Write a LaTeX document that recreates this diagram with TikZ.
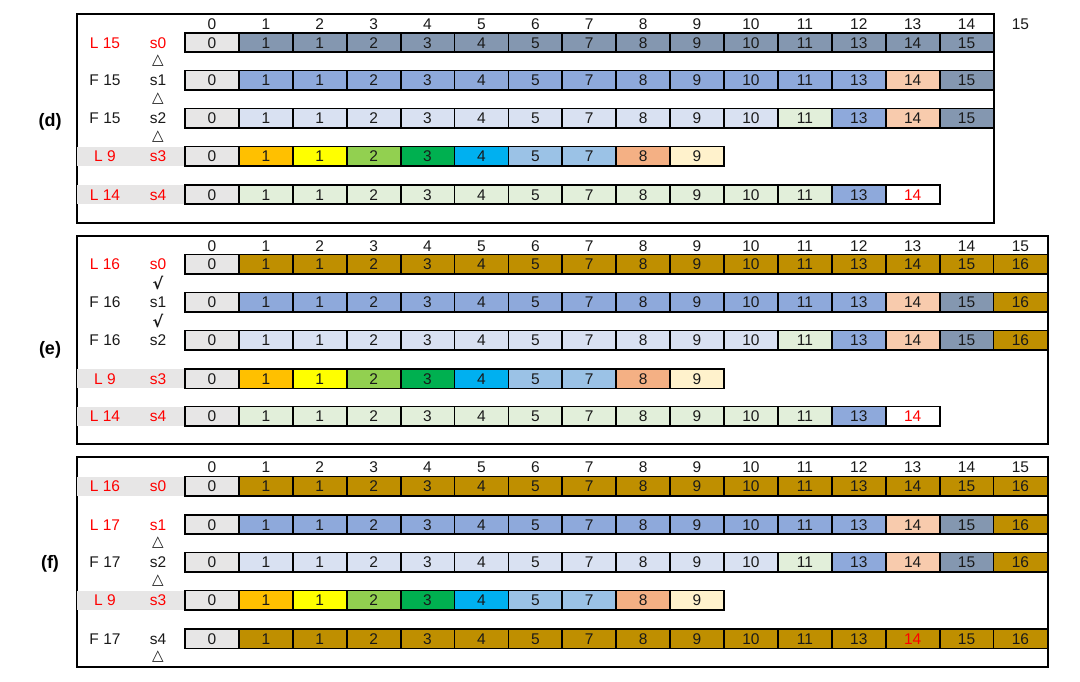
\documentclass[tikz,border=0pt]{standalone}
\usepackage{fontspec}
\setmainfont{Liberation Sans}
\newfontfamily\symfont{DejaVu Sans}
\definecolor{cg}{HTML}{E7E6E6}
\definecolor{sl}{HTML}{8497B0}
\definecolor{mb}{HTML}{8EA9DB}
\definecolor{lv}{HTML}{D9E1F2}
\definecolor{pc}{HTML}{F8CBAD}
\definecolor{lg}{HTML}{E2EFDA}
\definecolor{og}{HTML}{FFC000}
\definecolor{yl}{HTML}{FFFF00}
\definecolor{gn}{HTML}{92D050}
\definecolor{dg}{HTML}{00B050}
\definecolor{cy}{HTML}{00B0F0}
\definecolor{lb}{HTML}{9BC2E6}
\definecolor{sm}{HTML}{F4B084}
\definecolor{cr}{HTML}{FFF2CC}
\definecolor{gd}{HTML}{BF8F00}
\definecolor{rd}{HTML}{FF0000}
\definecolor{band}{HTML}{E7E6E6}
\definecolor{txt}{HTML}{1A1A1A}
\tikzset{
  numfont/.style={font=\fontsize{15.5}{15.5}\selectfont, text height=11.1pt, text depth=0pt},
  cellbox/.style={numfont, draw=black, line width=1.8pt, minimum width=53.9pt, minimum height=19.5pt,
    inner sep=0pt, outer sep=0pt, anchor=west, text=txt},
  f-cg/.style={fill=cg}, f-sl/.style={fill=sl}, f-mb/.style={fill=mb}, f-lv/.style={fill=lv},
  f-pc/.style={fill=pc}, f-lg/.style={fill=lg}, f-og/.style={fill=og}, f-yl/.style={fill=yl},
  f-gn/.style={fill=gn}, f-dg/.style={fill=dg}, f-cy/.style={fill=cy}, f-lb/.style={fill=lb},
  f-sm/.style={fill=sm}, f-cr/.style={fill=cr}, f-gd/.style={fill=gd},
  f-wr/.style={fill=white, text=rd}, f-gr/.style={fill=gd, text=rd},
  hdr/.style={numfont, text=txt, inner sep=0pt},
  lab/.style={numfont, text=txt, inner sep=0pt},
  redlab/.style={lab, text=rd},
  trimark/.style={font=\symfont\fontsize{15}{15}\selectfont, text=txt, inner sep=0pt},
  chk/.style={font=\symfont\bfseries\fontsize{16}{16}\selectfont, text=txt, inner sep=0pt},
  frame/.style={draw=black, line width=2pt},
  panel/.style={font=\bfseries\fontsize{18}{18}\selectfont, text=black, inner sep=0pt},
}
\newcommand\cellrow[3]{%
  \foreach \c [count=\i from 0] in {#3} {
    \pgfmathtruncatemacro\v{{0,1,1,2,3,4,5,7,8,9,10,11,13,14,15,16}[\i]}
    \node[cellbox, f-\c] (#1-\i) at ({185+53.9*\i}, #2) {\v};
  }}
\newcommand\headrow[3]{%
  \foreach \i in {0,...,#3} {
    \node[hdr] (#1-h\i) at ({185+53.9*\i+26.95}, #2) {\i};
  }}
\newcommand\bandrow[1]{\fill[band] (77,{#1-9.75}) rectangle (184,{#1+9.75});}
\begin{document}
\begin{tikzpicture}[x=1pt, y=-1pt]
\useasboundingbox (0,0) rectangle (1080,681);
\fill[white] (0,0) rectangle (1080,681);

% ---------------- panel (d)
\draw[frame] (77,14) rectangle (993.5,222.5);
\node[panel] (pd) at (50,122) {(d)};
\headrow{d}{24}{15}
\bandrow{156.3}
\bandrow{194.5}
\node[redlab] (d-L0) at (105,42.5) {L 15};   \node[redlab] (d-s0) at (158,42.5) {s0};
\node[lab] (d-L1) at (105,80.3) {F 15};      \node[lab] (d-s1) at (158,80.3) {s1};
\node[lab] (d-L2) at (105,118.3) {F 15};     \node[lab] (d-s2) at (158,118.3) {s2};
\node[redlab] (d-L3) at (105,156.3) {L 9};   \node[redlab] (d-s3) at (158,156.3) {s3};
\node[redlab] (d-L4) at (105,194.5) {L 14};  \node[redlab] (d-s4) at (158,194.5) {s4};
\node[trimark] (d-m0) at (158,61) {△};
\node[trimark] (d-m1) at (158,99) {△};
\node[trimark] (d-m2) at (158,137) {△};
\cellrow{d0}{42.5}{cg,sl,sl,sl,sl,sl,sl,sl,sl,sl,sl,sl,sl,sl,sl}
\cellrow{d1}{80.3}{cg,mb,mb,mb,mb,mb,mb,mb,mb,mb,mb,mb,mb,pc,sl}
\cellrow{d2}{118.3}{cg,lv,lv,lv,lv,lv,lv,lv,lv,lv,lv,lg,mb,pc,sl}
\cellrow{d3}{156.3}{cg,og,yl,gn,dg,cy,lb,lb,sm,cr}
\cellrow{d4}{194.5}{cg,lg,lg,lg,lg,lg,lg,lg,lg,lg,lg,lg,mb,wr}

% ---------------- panel (e)
\draw[frame] (77,235.7) rectangle (1047.5,444.3);
\node[panel] (pe) at (50,350) {(e)};
\headrow{e}{245.7}{15}
\bandrow{378.7}
\bandrow{416.3}
\node[redlab] (e-L0) at (105,264.2) {L 16};  \node[redlab] (e-s0) at (158,264.2) {s0};
\node[lab] (e-L1) at (105,302.2) {F 16};     \node[lab] (e-s1) at (158,302.2) {s1};
\node[lab] (e-L2) at (105,340.3) {F 16};     \node[lab] (e-s2) at (158,340.3) {s2};
\node[redlab] (e-L3) at (105,378.7) {L 9};   \node[redlab] (e-s3) at (158,378.7) {s3};
\node[redlab] (e-L4) at (105,416.3) {L 14};  \node[redlab] (e-s4) at (158,416.3) {s4};
\node[chk] (e-m0) at (158,283) {√};
\node[chk] (e-m1) at (158,321) {√};
\cellrow{e0}{264.2}{cg,gd,gd,gd,gd,gd,gd,gd,gd,gd,gd,gd,gd,gd,gd,gd}
\cellrow{e1}{302.2}{cg,mb,mb,mb,mb,mb,mb,mb,mb,mb,mb,mb,mb,pc,sl,gd}
\cellrow{e2}{340.3}{cg,lv,lv,lv,lv,lv,lv,lv,lv,lv,lv,lg,mb,pc,sl,gd}
\cellrow{e3}{378.7}{cg,og,yl,gn,dg,cy,lb,lb,sm,cr}
\cellrow{e4}{416.3}{cg,lg,lg,lg,lg,lg,lg,lg,lg,lg,lg,lg,mb,wr}

% ---------------- panel (f)
\draw[frame] (77,457.3) rectangle (1047.5,667.3);
\node[panel] (pf) at (50,564) {(f)};
\headrow{f}{466.7}{15}
\bandrow{486.3}
\bandrow{600.3}
\node[redlab] (f-L0) at (105,486.3) {L 16};  \node[redlab] (f-s0) at (158,486.3) {s0};
\node[redlab] (f-L1) at (105,524.5) {L 17};  \node[redlab] (f-s1) at (158,524.5) {s1};
\node[lab] (f-L2) at (105,562.3) {F 17};     \node[lab] (f-s2) at (158,562.3) {s2};
\node[redlab] (f-L3) at (105,600.3) {L 9};   \node[redlab] (f-s3) at (158,600.3) {s3};
\node[lab] (f-L4) at (105,638.7) {F 17};     \node[lab] (f-s4) at (158,638.7) {s4};
\node[trimark] (f-m1) at (158,543) {△};
\node[trimark] (f-m2) at (158,581) {△};
\node[trimark] (f-m4) at (158,657) {△};
\cellrow{f0}{486.3}{cg,gd,gd,gd,gd,gd,gd,gd,gd,gd,gd,gd,gd,gd,gd,gd}
\cellrow{f1}{524.5}{cg,mb,mb,mb,mb,mb,mb,mb,mb,mb,mb,mb,mb,pc,sl,gd}
\cellrow{f2}{562.3}{cg,lv,lv,lv,lv,lv,lv,lv,lv,lv,lv,lg,mb,pc,sl,gd}
\cellrow{f3}{600.3}{cg,og,yl,gn,dg,cy,lb,lb,sm,cr}
\cellrow{f4}{638.7}{cg,gd,gd,gd,gd,gd,gd,gd,gd,gd,gd,gd,gd,gr,gd,gd}
\end{tikzpicture}
\end{document}
